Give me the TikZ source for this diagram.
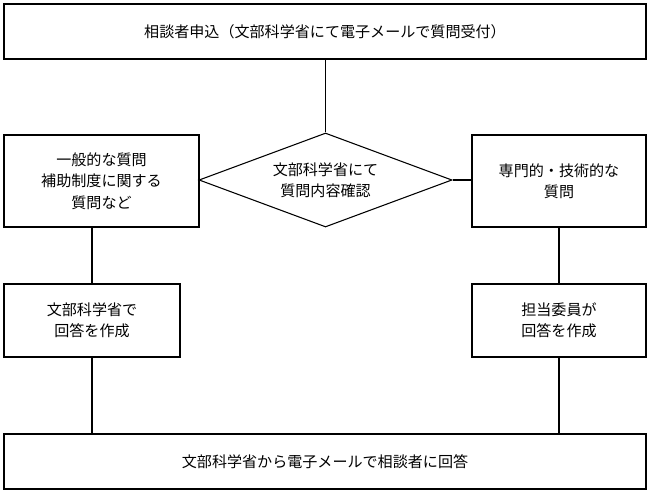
\documentclass[tikz,border=0pt]{standalone}
\usepackage{fontspec}
\setmainfont{Noto Sans CJK JP}
\usetikzlibrary{shapes.geometric}
\begin{document}
\begin{tikzpicture}[x=0.75pt,y=-0.75pt,
  bx/.style={draw,line width=0.8pt,align=center,font=\fontsize{11.3}{16}\selectfont,inner sep=0pt},
  ln/.style={line width=0.8pt}]
\useasboundingbox (0,0) rectangle (650,493);
\node[bx,minimum width=642*0.75pt,minimum height=55*0.75pt] (top) at (325,31.5) {相談者申込（文部科学省にて電子メールで質問受付）};
\node[bx,draw,diamond,aspect=2.7,minimum width=253*0.75pt,minimum height=94*0.75pt] (dia) at (325.5,180) {};
\node[align=center,font=\fontsize{11.3}{16}\selectfont] (diat) at (325.5,180) {文部科学省にて\\質問内容確認};
\node[bx,minimum width=195*0.75pt,minimum height=92*0.75pt] (gen) at (101.5,181) {一般的な質問\\補助制度に関する\\質問など};
\node[bx,minimum width=174*0.75pt,minimum height=92*0.75pt] (tech) at (559,181) {専門的・技術的な\\質問};
\node[bx,minimum width=176*0.75pt,minimum height=73*0.75pt] (ans1) at (92,320.5) {文部科学省で\\回答を作成};
\node[bx,minimum width=174*0.75pt,minimum height=73*0.75pt] (ans2) at (559,320.5) {担当委員が\\回答を作成};
\node[bx,minimum width=642*0.75pt,minimum height=55*0.75pt] (bot) at (325,461.5) {文部科学省から電子メールで相談者に回答};
\draw[ln] (top.south -| dia.north) -- (dia.north);
\draw[ln] (dia.west) -- (gen.east |- dia.west);
\draw[ln] (dia.east) -- (tech.west |- dia.east);
\draw[ln] (gen.south -| ans1.north) -- (ans1.north);
\draw[ln] (ans1.south) -- (bot.north -| ans1.south);
\draw[ln] (tech.south) -- (ans2.north);
\draw[ln] (ans2.south) -- (bot.north -| ans2.south);
\end{tikzpicture}
\end{document}
